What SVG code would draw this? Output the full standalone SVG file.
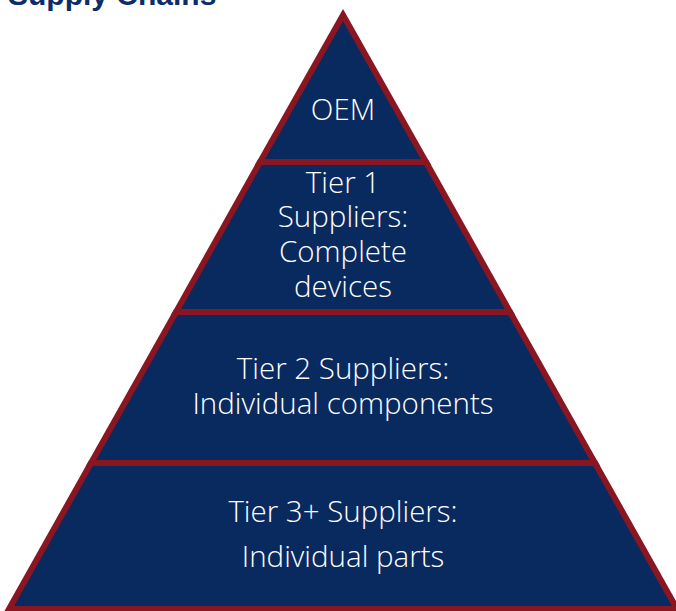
<svg xmlns="http://www.w3.org/2000/svg" width="676" height="611" viewBox="0 0 676 611">
  <style>
    .tier { fill: #092A5E; stroke: #8A1622; stroke-width: 6; stroke-linejoin: miter; }
    .label { fill: #FFFFFF; font-family: "Open Sans", "Liberation Sans", sans-serif; font-weight: 300; font-size: 29.5px; text-anchor: middle; }
    .title { fill: #0C2D6B; font-family: "Liberation Sans", Arial, sans-serif; font-weight: bold; font-size: 30px; }
  </style>
  <rect width="676" height="611" fill="#FFFFFF"/>

  <text class="title" x="8" y="5">Supply Chains</text>

  <!-- bottom tier -->
  <g id="tier3">
    <polygon class="tier" points="91,463 595,463 677,609 9,609"/>
    <text class="label" x="343" y="522">Tier 3+ Suppliers:</text>
    <text class="label" x="343" y="567">Individual parts</text>
  </g>

  <g id="tier2">
    <polygon class="tier" points="176,312 510,312 595,463 91,463"/>
    <text class="label" x="343" y="379">Tier 2 Suppliers:</text>
    <text class="label" x="343" y="414">Individual components</text>
  </g>

  <g id="tier1">
    <polygon class="tier" points="260,162 426,162 510,312 176,312"/>
    <text class="label" x="343" y="193">Tier 1</text>
    <text class="label" x="343" y="227">Suppliers:</text>
    <text class="label" x="343" y="262">Complete</text>
    <text class="label" x="343" y="297">devices</text>
  </g>

  <g id="oem">
    <polygon class="tier" points="343,15 426,162 260,162"/>
    <text class="label" x="343" y="120">OEM</text>
  </g>

  <g id="connectors"/>
</svg>
